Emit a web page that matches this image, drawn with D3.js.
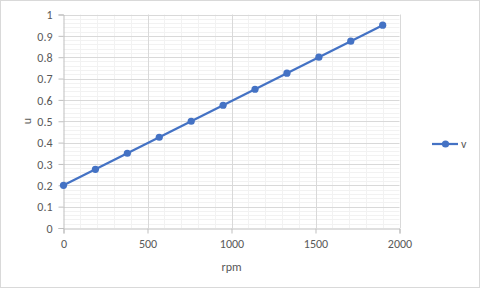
<!DOCTYPE html>
<html><head><meta charset="utf-8">
<script src="https://cdn.jsdelivr.net/npm/d3@7"></script>
<style>body{margin:0;background:#fff}svg{display:block}text{font-family:Calibri,Carlito,"Liberation Sans",Arial,sans-serif}</style>
</head><body>
<script>
const rpm = [0, 190, 380, 570, 760, 950, 1140, 1330, 1520, 1710, 1900];
const v = [0.2, 0.275, 0.35, 0.425, 0.5, 0.575, 0.65, 0.725, 0.8, 0.875, 0.95];
const xTicks = [0, 500, 1000, 1500, 2000];
const yTicks = [0, 0.1, 0.2, 0.3, 0.4, 0.5, 0.6, 0.7, 0.8, 0.9, 1];
const seriesName = "v";
const xTitle = "rpm", yTitle = "u";

const W = 480, H = 288;
const L = 63.5, R = 399.5, T = 14.5, B = 228;
const svg = d3.select("body").append("svg").attr("width", W).attr("height", H);
svg.append("rect").attr("x",0.5).attr("y",0.5).attr("width",W-1).attr("height",H-1)
  .attr("fill","#fff").attr("stroke","#d9d9d9");

const x = d3.scaleLinear().domain([0,2000]).range([L,R]);
const y = d3.scaleLinear().domain([0,1]).range([B,T]);

// minor gridlines
const g = svg.append("g");
g.selectAll(".mx").data(d3.range(100,2000,100).filter(d=>d%500)).join("line")
  .attr("x1",d=>Math.round(x(d))+0.5).attr("x2",d=>Math.round(x(d))+0.5).attr("y1",T).attr("y2",B)
  .attr("stroke","#f2f2f2");
g.selectAll(".my").data(d3.range(1,50).filter(d=>d%5).map(d=>d/50)).join("line")
  .attr("y1",d=>Math.round(y(d))+0.5).attr("y2",d=>Math.round(y(d))+0.5).attr("x1",L).attr("x2",R)
  .attr("stroke","#f2f2f2");
// major gridlines
g.selectAll(".Mx").data(xTicks.slice(1)).join("line")
  .attr("x1",d=>Math.round(x(d))+0.5).attr("x2",d=>Math.round(x(d))+0.5).attr("y1",T).attr("y2",B)
  .attr("stroke","#d9d9d9");
g.selectAll(".My").data(yTicks.slice(1)).join("line")
  .attr("y1",d=>Math.round(y(d))+0.5).attr("y2",d=>Math.round(y(d))+0.5).attr("x1",L).attr("x2",R)
  .attr("stroke","#d9d9d9");

// axes
const xa = svg.append("g").attr("transform",`translate(0,${Math.round(B)+0.5})`)
  .call(d3.axisBottom(x).tickValues(xTicks).tickSize(5).tickPadding(6).tickFormat(d3.format("d")));
const ya = svg.append("g").attr("transform",`translate(${L},0)`)
  .call(d3.axisLeft(y).tickValues(yTicks).tickSize(5).tickPadding(6).tickFormat(d=>String(+d.toFixed(1))));
[xa,ya].forEach(a=>{
  a.select(".domain").attr("stroke","#bfbfbf");
  a.selectAll(".tick line").attr("stroke","#bfbfbf");
  a.selectAll("text").attr("fill","#595959").style("font-size","12px");
});
ya.selectAll(".tick text").attr("dy","0.35em");

svg.append("text").attr("x",(L+R)/2).attr("y",271).attr("text-anchor","middle")
  .attr("fill","#595959").style("font-size","12px").text(xTitle);
svg.append("text").attr("transform","translate(31,121) rotate(-90)").attr("text-anchor","middle")
  .attr("fill","#595959").style("font-size","12px").text(yTitle);

// series
svg.append("path").datum(rpm.map((d,i)=>[d,v[i]]))
  .attr("d",d3.line().x(d=>x(d[0])).y(d=>y(d[1])))
  .attr("fill","none").attr("stroke","#4472C4").attr("stroke-width",2.25);
svg.selectAll(".pt").data(rpm).join("circle")
  .attr("cx",d=>x(d)).attr("cy",(d,i)=>y(v[i])).attr("r",3.6).attr("fill","#4472C4");

// legend
const lg = svg.append("g");
lg.append("line").attr("x1",432).attr("x2",458).attr("y1",144).attr("y2",144)
  .attr("stroke","#4472C4").attr("stroke-width",2.25);
lg.append("circle").attr("cx",445.5).attr("cy",144).attr("r",3.6).attr("fill","#4472C4");
lg.append("text").attr("x",461).attr("y",148).attr("fill","#595959").style("font-size","12px").text(seriesName);
</script>
</body></html>
